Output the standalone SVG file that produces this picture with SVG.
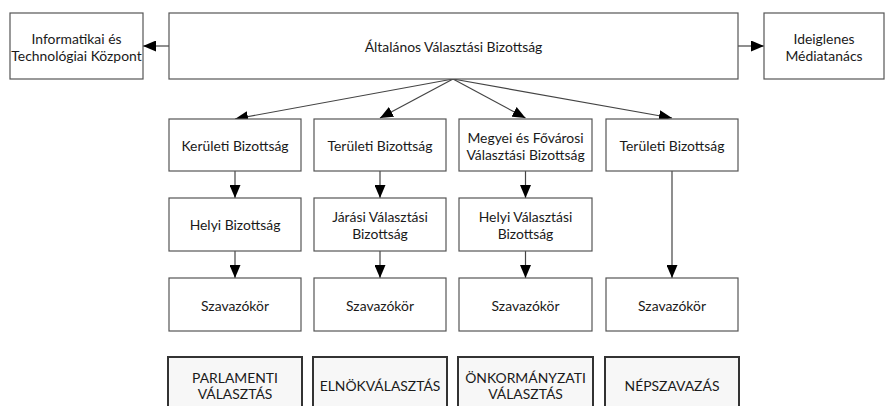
<svg xmlns="http://www.w3.org/2000/svg" width="888" height="406" viewBox="0 0 888 406">
<style>
.box{fill:#fff;stroke:#555;stroke-width:1.2}
.res{fill:#f7f7f7;stroke:#333;stroke-width:2}
text{font-family:"Lato","Open Sans","Liberation Sans",sans-serif;font-size:13.9px;fill:#1a1a1a;text-anchor:middle;dominant-baseline:central}
.c{stroke:#444;stroke-width:1.2;fill:none;marker-end:url(#ah)}
</style>
<defs>
<marker id="ah" markerWidth="13" markerHeight="11" refX="13" refY="5.5" orient="auto" markerUnits="userSpaceOnUse">
<path d="M0,0 L13,5.5 L0,11 Z" fill="#000"/>
</marker>
</defs>
<g id="connectors">
<line class="c" x1="169" y1="46" x2="143" y2="46"/>
<line class="c" x1="738" y1="46" x2="764" y2="46"/>
<line class="c" x1="453" y1="79" x2="235" y2="119"/>
<line class="c" x1="453" y1="79" x2="380" y2="118"/>
<line class="c" x1="453" y1="79" x2="525.5" y2="118"/>
<line class="c" x1="453" y1="79" x2="672" y2="118"/>
<line class="c" x1="235" y1="171" x2="235" y2="198"/>
<line class="c" x1="380" y1="171" x2="380" y2="198"/>
<line class="c" x1="525.5" y1="171" x2="525.5" y2="198"/>
<line class="c" x1="672" y1="171" x2="672" y2="278"/>
<line class="c" x1="235" y1="251" x2="235" y2="278"/>
<line class="c" x1="380" y1="251" x2="380" y2="278"/>
<line class="c" x1="525.5" y1="251" x2="525.5" y2="278"/>
</g>
<g id="itk"><rect class="box" x="10" y="13" width="133" height="66"/><text x="76.5" y="38">Informatikai és</text><text x="76.5" y="55">Technológiai Központ</text></g>
<g id="avb"><rect class="box" x="169" y="13" width="569" height="66"/><text x="453.5" y="46">Általános Választási Bizottság</text></g>
<g id="imt"><rect class="box" x="764" y="13" width="120" height="66"/><text x="824" y="38">Ideiglenes</text><text x="824" y="55">Médiatanács</text></g>

<g id="kb"><rect class="box" x="169" y="119" width="132" height="52"/><text x="235" y="145">Kerületi Bizottság</text></g>
<g id="tb1"><rect class="box" x="314" y="119" width="132" height="52"/><text x="380" y="145">Területi Bizottság</text></g>
<g id="mfvb"><rect class="box" x="459" y="119" width="133" height="52"/><text x="525.5" y="137">Megyei és Fővárosi</text><text x="525.5" y="154">Választási Bizottság</text></g>
<g id="tb2"><rect class="box" x="606" y="119" width="132" height="52"/><text x="672" y="145">Területi Bizottság</text></g>

<g id="hb"><rect class="box" x="169" y="198" width="132" height="53"/><text x="235" y="224.5">Helyi Bizottság</text></g>
<g id="jvb"><rect class="box" x="314" y="198" width="132" height="53"/><text x="380" y="216">Járási Választási</text><text x="380" y="233">Bizottság</text></g>
<g id="hvb"><rect class="box" x="459" y="198" width="133" height="53"/><text x="525.5" y="216">Helyi Választási</text><text x="525.5" y="233">Bizottság</text></g>

<g id="sz1"><rect class="box" x="169" y="278" width="132" height="53"/><text x="235" y="305">Szavazókör</text></g>
<g id="sz2"><rect class="box" x="314" y="278" width="132" height="53"/><text x="380" y="305">Szavazókör</text></g>
<g id="sz3"><rect class="box" x="459" y="278" width="133" height="53"/><text x="525.5" y="305">Szavazókör</text></g>
<g id="sz4"><rect class="box" x="606" y="278" width="132" height="53"/><text x="672" y="305">Szavazókör</text></g>

<g id="parl"><rect class="res" x="168" y="357" width="134" height="55"/><text x="235" y="377">PARLAMENTI</text><text x="235" y="393">VÁLASZTÁS</text></g>
<g id="elnok"><rect class="res" x="313" y="357" width="134" height="55"/><text x="380" y="385">ELNÖKVÁLASZTÁS</text></g>
<g id="onk"><rect class="res" x="458" y="357" width="135" height="55"/><text x="525.5" y="377">ÖNKORMÁNYZATI</text><text x="525.5" y="393">VÁLASZTÁS</text></g>
<g id="nep"><rect class="res" x="605" y="357" width="134" height="55"/><text x="672" y="385">NÉPSZAVAZÁS</text></g>
</svg>
